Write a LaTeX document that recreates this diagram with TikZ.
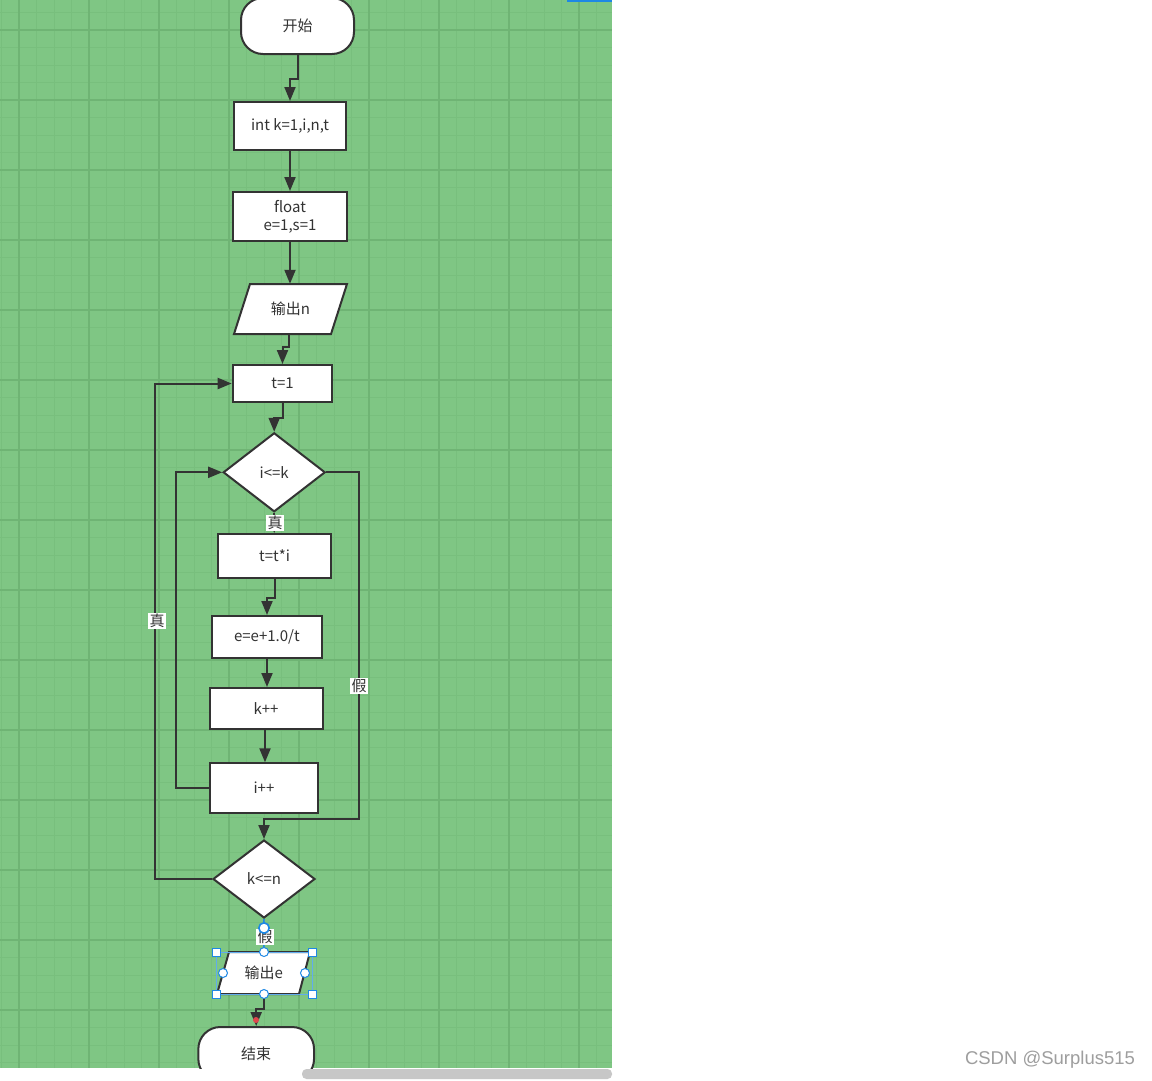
\documentclass[tikz,border=0pt]{standalone}
\usepackage{fontspec}
\setmainfont{Noto Sans CJK SC}
\newfontfamily\wmfont{Liberation Sans}
\usetikzlibrary{shapes.geometric,arrows.meta}
\definecolor{bg}{RGB}{127,198,132}
\definecolor{gminor}{RGB}{120,191,125}
\definecolor{gmajor}{RGB}{111,180,116}
\definecolor{ink}{RGB}{51,51,51}
\definecolor{sel}{RGB}{30,136,229}
\definecolor{reddot}{RGB}{222,70,76}
\begin{document}
\begin{tikzpicture}[x=1pt,y=-1pt,
  txt/.style={font=\fontsize{15}{18}\selectfont,text=ink,inner sep=0pt},
  box/.style={txt,draw=ink,line width=2pt,fill=white},
  term/.style={box,rounded corners=22pt},
  dia/.style={box,shape=diamond,aspect=1.3},
  lbl/.style={txt,fill=white,inner sep=1.5pt},
  arr/.style={draw=ink,line width=2pt,-{Triangle[length=14pt,width=11pt]}},
  handle/.style={draw=sel,fill=white,line width=1pt}]
\useasboundingbox (0,0) rectangle (1152,1080);
\fill[white] (0,0) rectangle (1152,1080);
\begin{scope}
\clip (0,0) rectangle (612,1068);
\fill[bg] (0,0) rectangle (612,1068);
\foreach \i in {0,...,34} \draw[gminor,line width=1pt] (1.5+17.5*\i,0) -- (1.5+17.5*\i,1068);
\foreach \j in {0,...,60} \draw[gminor,line width=1pt] (0,12.5+17.5*\j) -- (612,12.5+17.5*\j);
\foreach \i in {0,...,8} \draw[gmajor,line width=1.2pt] (19+70*\i,0) -- (19+70*\i,1068);
\foreach \j in {0,...,15} \draw[gmajor,line width=1.2pt] (0,30+70*\j) -- (612,30+70*\j);

% nodes
\node[term,minimum width=113,minimum height=56] (start) at (297.5,26) {开始};
\node[box,minimum width=112,minimum height=48] (int) at (290,126) {int k=1,i,n,t};
\node[box,minimum width=114,minimum height=49,align=center] (flt) at (290,216.5) {float\\e=1,s=1};
\fill[white,draw=ink,line width=2pt,line join=miter] (250,284) -- (347,284) -- (331,334) -- (234,334) -- cycle;
\node[txt,minimum width=113,minimum height=50] (outn) at (290.5,309) {输出n};
\node[box,minimum width=99.6,minimum height=37] (t1) at (282.5,383.5) {t=1};
\node[dia,minimum width=102,minimum height=79] (d1) at (274.2,472.3) {i<=k};
\node[box,minimum width=113,minimum height=44] (tti) at (274.5,556) {t=t*i};
\node[box,minimum width=110,minimum height=42] (epp) at (267,637) {e=e+1.0/t};
\node[box,minimum width=113,minimum height=41] (kpp) at (266,708.5) {k++};
\node[box,minimum width=107.4,minimum height=49.4] (ipp) at (264,788) {i++};
\node[dia,minimum width=102,minimum height=78] (d2) at (264,879) {k<=n};
\fill[white,draw=ink,line width=2pt,line join=miter] (229,952) -- (310,952) -- (299,994) -- (217,994) -- cycle;
\node[txt,minimum width=93,minimum height=42] (oute) at (263.75,973) {输出e};
\node[term,minimum width=115.7,minimum height=54] (fin) at (256.2,1054) {结束};
\coordinate (fr) at (359,819);

% connectors
\draw[arr] (start.south) -- ++(0,24) -| (int.north);
\draw[arr] (int.south) -- (flt.north);
\draw[arr] (flt.south) -- (flt.south |- outn.north);
\draw[arr] ([xshift=-1.5pt]outn.south) -- ++(0,13) -| (t1.north);
\draw[arr] ([xshift=0.8pt]t1.south) -- ++(0,15) -| (d1.north);
\draw[arr] (d1.south) -- (d1.south |- tti.north);
\draw[arr] (tti.south) -- ++(0,19) -| (epp.north);
\draw[arr] (epp.south) -- (epp.south |- kpp.north);
\draw[arr] ([xshift=-1pt]kpp.south) -- ([xshift=-1pt]kpp.south |- ipp.north);
\draw[arr] (ipp.west) -- ++(-33,0) |- (d1.west);
\draw[arr] (d1.east) -| (fr) -| (d2.north);
\draw[arr] (d2.west) -- ++(-57,0) |- (t1.west);
\draw[sel,line width=1.5pt] (d2.south) -- (oute.north);
\draw[arr] (oute.south) -- ++(0,15) -| (fin.north);
\fill[reddot] (256,1020) circle (3pt);

% labels
\node[lbl] (l1) at (275,523) {真};
\node[lbl] (l2) at (359,686) {假};
\node[lbl] (l3) at (157,621) {真};
\node[lbl] (l4) at (265,937) {假};

% selection handles
\draw[sel!70,line width=0.8pt] (216,952) rectangle (312,994);
\foreach \p in {(216,952),(312,952),(216,994),(312,994)}
  \draw[handle] \p ++(-4,-4) rectangle ++(8,8);
\foreach \p in {(264,952),(223,973),(305,973),(264,994)}
  \draw[handle] \p circle (4.5pt);
\draw[handle,line width=1.6pt] (264,928) circle (5.2pt);
\end{scope}
\fill[sel] (567,0) rectangle (612,1.8);
\fill[black!22,rounded corners=4.5pt] (302,1069) rectangle (612,1079);
\node[font=\wmfont\fontsize{18.5}{20}\selectfont,text=black!38] (wm) at (1050,1060) {CSDN @Surplus515};
\end{tikzpicture}
\end{document}
